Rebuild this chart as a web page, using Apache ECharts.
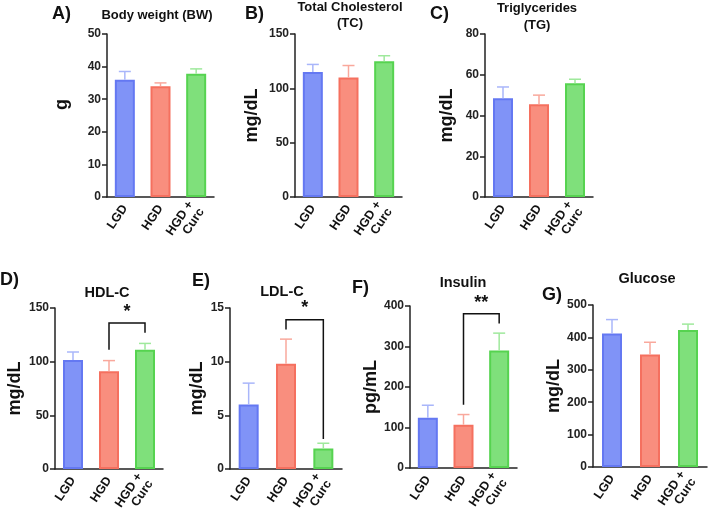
<!DOCTYPE html>
<html>
<head>
<meta charset="utf-8">
<script src="https://cdn.jsdelivr.net/npm/echarts@6/dist/echarts.min.js"></script>
<style>
  html, body { margin: 0; padding: 0; background: #fff; }
  #chart { width: 708px; height: 523px; }
</style>
</head>
<body>
<div id="chart"></div>
<script>
// groups
var categories = ['LGD', 'HGD', 'HGD +\nCurc'];

// mean and error (upper only)
var bwMean = [36, 34, 37.8];
var bwErr = [2.5, 1, 1.5];
var tcMean = [115, 110, 125];
var tcErr = [7, 11, 5];
var tgMean = [48.5, 45.5, 55.8];
var tgErr = [5.5, 4.5, 2];
var hdlMean = [101.5, 91, 111];
var hdlErr = [7.5, 10, 6];
var ldlMean = [6, 9.8, 1.9];
var ldlErr = [2, 2.3, 0.5];
var insMean = [124, 107, 290];
var insErr = [31, 25, 43];
var gluMean = [412, 347, 423];
var gluErr = [43, 38, 18];

// significance brackets: [from group, to group, left leg bottom, top, right leg bottom, label y]
var hdlBracket = [1, 2, 111, 136, 127, 146];
var ldlBracket = [1, 2, 13, 13.9, 2.8, 15];
var insBracket = [1, 2, 156, 381, 357, 408];

var fillColors = ['#8093f7', '#f98e7e', '#7fe07b'];
var edgeColors = ['#6478f2', '#f5705f', '#56d350'];
var errColors = ['#a9b6fa', '#f9a89c', '#9fe99c'];

var FONT = '"Liberation Sans", Arial, Helvetica, sans-serif';
var axisColor = '#222';

var grids = [], xAxes = [], yAxes = [], series = [];

function panel(box, yMax, yStep, yName, nameGap, namePad, means, errs, bracket, stars) {
    var i = grids.length;
    grids.push({left: box[0], top: box[1], width: box[2], height: box[3]});
    xAxes.push({
        type: 'category', gridIndex: i, data: categories,
        axisLine: {lineStyle: {color: axisColor, width: 1.5}},
        axisTick: {alignWithLabel: true, length: 5, lineStyle: {color: axisColor, width: 1.5}},
        axisLabel: {
            interval: 0, rotate: 56, margin: 9, color: '#111',
            fontFamily: FONT, fontWeight: 'bold', fontSize: 12.5, lineHeight: 13
        }
    });
    yAxes.push({
        type: 'value', gridIndex: i, min: 0, max: yMax, interval: yStep,
        name: yName, nameLocation: 'middle', nameGap: nameGap,
        nameTextStyle: {
            color: '#111', fontFamily: FONT, fontWeight: 'bold', fontSize: 18,
            padding: namePad
        },
        axisLine: {show: true, lineStyle: {color: axisColor, width: 1.5}},
        axisTick: {show: true, length: 5, lineStyle: {color: axisColor, width: 1.5}},
        axisLabel: {color: '#222', fontFamily: FONT, fontWeight: 'bold', fontSize: 12, margin: 6},
        splitLine: {show: false}
    });
    series.push({
        type: 'bar', xAxisIndex: i, yAxisIndex: i, barWidth: 20,
        data: means.map(function (v, k) {
            return {value: v, itemStyle: {color: fillColors[k], borderColor: edgeColors[k], borderWidth: 2}};
        })
    });
    series.push({
        type: 'custom', xAxisIndex: i, yAxisIndex: i, z: 3,
        data: means.map(function (v, k) { return [k, v, errs[k]]; }),
        renderItem: function (params, api) {
            var k = api.value(0), m = api.value(1), e = api.value(2);
            var p0 = api.coord([k, m]), p1 = api.coord([k, m + e]);
            var st = {stroke: errColors[k], lineWidth: 1.5};
            return {
                type: 'group', children: [
                    {type: 'line', shape: {x1: p0[0], y1: p0[1], x2: p1[0], y2: p1[1]}, style: st},
                    {type: 'line', shape: {x1: p1[0] - 6, y1: p1[1], x2: p1[0] + 6, y2: p1[1]}, style: st}
                ]
            };
        }
    });
    if (bracket) {
        series.push({
            type: 'custom', xAxisIndex: i, yAxisIndex: i, z: 4,
            data: [bracket],
            renderItem: function (params, api) {
                var a = api.coord([api.value(0), api.value(2)]);
                var b = api.coord([api.value(0), api.value(3)]);
                var c = api.coord([api.value(1), api.value(3)]);
                var d = api.coord([api.value(1), api.value(4)]);
                var s = api.coord([(api.value(0) + api.value(1)) / 2, api.value(5)]);
                return {
                    type: 'group', children: [
                        {type: 'polyline', shape: {points: [a, b, c, d]},
                            style: {stroke: '#111', lineWidth: 1.5, fill: null}},
                        {type: 'text', x: (b[0] + c[0]) / 2, y: s[1],
                            style: {text: stars, fill: '#111', font: 'bold 18px ' + FONT,
                                align: 'center', verticalAlign: 'middle'}}
                    ]
                };
            }
        });
    }
}

panel([107, 34, 107, 163], 50, 10, 'g', 36, [0, 0, 0, 22], bwMean, bwErr);
panel([295, 34, 107, 163], 150, 50, 'mg/dL', 34, 0, tcMean, tcErr);
panel([485, 34, 108, 163], 80, 20, 'mg/dL', 29, 0, tgMean, tgErr);
panel([55, 308, 108, 161], 150, 50, 'mg/dL', 31, 0, hdlMean, hdlErr, hdlBracket, '*');
panel([230, 308, 112, 161], 15, 5, 'mg/dL', 24, 0, ldlMean, ldlErr, ldlBracket, '*');
panel([410, 306, 107, 162], 400, 100, 'pg/mL', 19, 0, insMean, insErr, insBracket, '**');
panel([593, 305, 114, 162], 500, 100, 'mg/dL', 26, 0, gluMean, gluErr);

function txt(t, x, y, size, align) {
    return {
        type: 'text', x: x, y: y, silent: true,
        style: {text: t, fill: '#111', font: 'bold ' + size + 'px ' + FONT,
            align: align || 'center', verticalAlign: 'middle'}
    };
}

var graphics = [
    txt('A)', 52, 14, 18, 'left'), txt('Body weight (BW)', 157, 15, 13),
    txt('B)', 245, 14, 18, 'left'), txt('Total Cholesterol', 350, 7, 13), txt('(TC)', 350, 23, 13),
    txt('C)', 430, 14, 18, 'left'), txt('Triglycerides', 537, 8, 13), txt('(TG)', 537, 25, 13),
    txt('D)', 0, 280, 18, 'left'), txt('HDL-C', 107, 293, 14.5),
    txt('E)', 192, 281, 18, 'left'), txt('LDL-C', 282, 292, 14.5),
    txt('F)', 352, 288, 18, 'left'), txt('Insulin', 463, 283, 14.5),
    txt('G)', 542, 295, 18, 'left'), txt('Glucose', 647, 279, 14.5)
];

var chart = echarts.init(document.getElementById('chart'));
chart.setOption({
    animation: false,
    backgroundColor: '#fff',
    grid: grids,
    xAxis: xAxes,
    yAxis: yAxes,
    series: series,
    graphic: graphics
});
</script>
</body>
</html>
